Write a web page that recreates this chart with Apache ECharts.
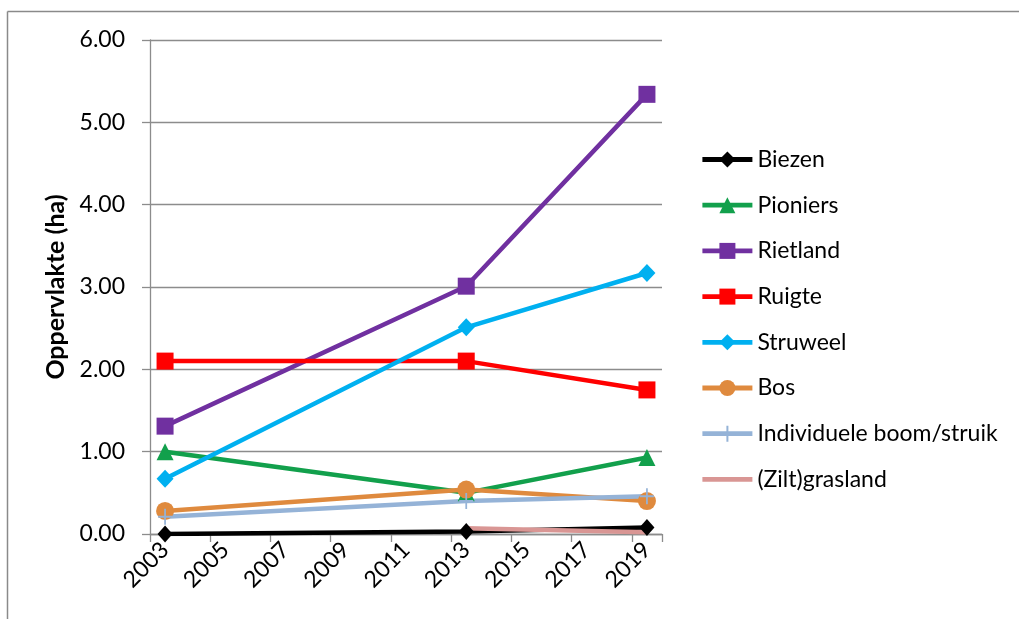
<!DOCTYPE html>
<html>
<head>
<meta charset="utf-8">
<title>Oppervlakte per vegetatietype</title>
<script src="https://cdn.jsdelivr.net/npm/echarts@6/dist/echarts.min.js"></script>
<style>
  html, body { margin: 0; padding: 0; background: #ffffff; }
  #chart { width: 1019px; height: 619px; }
</style>
</head>
<body>
<div id="chart"></div>
<script>
// Year scale of the horizontal axis (one band per year)
const axisYears = ['2003', '2004', '2005', '2006', '2007', '2008', '2009', '2010', '2011',
                   '2012', '2013', '2014', '2015', '2016', '2017', '2018', '2019'];

// Survey years and area (ha) per vegetation type
const surveyYears = ['2003', '2013', '2019'];
const biezen      = [0.00, 0.03, 0.08];
const pioniers    = [1.00, 0.50, 0.93];
const rietland    = [1.31, 3.01, 5.34];
const ruigte      = [2.10, 2.10, 1.75];
const struweel    = [0.67, 2.51, 3.17];
const bos         = [0.28, 0.54, 0.40];
const individueel = [0.21, 0.40, 0.46];
const grasland    = [null, 0.07, 0.02];

const yTicks = { min: 0, max: 6, step: 1 };

const FONT = 'Lato, "Open Sans", sans-serif';
const GRID_GREY = '#8c8c8c';

function pairs(values) {
  const out = [];
  values.forEach((v, i) => { if (v !== null) out.push([surveyYears[i], v]); });
  return out;
}

// plus marker (vertical arm shows above/below the line)
const PLUS = 'path://M7,0h2v7h7v2h-7v7h-2v-7h-7v-2h7z';
// plain line legend icon, boxed to the legend item size (50 x 20)
const LINE_ICON = 'path://M0,0h0.05v0.05h-0.05z M0,7.6h50v4.8h-50z M49.95,19.95h0.05v0.05h-0.05z';

function lineSeries(name, values, color, symbol, size) {
  return {
    name: name,
    type: 'line',
    data: pairs(values),
    symbol: symbol,
    symbolSize: size,
    showSymbol: symbol !== 'none',
    lineStyle: { color: color, width: 4.5 },
    itemStyle: { color: color },
    emphasis: { disabled: true }
  };
}

const chart = echarts.init(document.getElementById('chart'), null, { renderer: 'canvas' });

chart.setOption({
  animation: false,
  backgroundColor: '#ffffff',
  textStyle: { fontFamily: FONT },
  grid: { left: 150, right: 357, top: 40, bottom: 85 },
  graphic: [
    { type: 'line', shape: { x1: 7.5, y1: 11.5, x2: 1019, y2: 11.5 },
      style: { stroke: '#8a8a8a', lineWidth: 1.5 }, silent: true },
    { type: 'line', shape: { x1: 7.5, y1: 11.5, x2: 7.5, y2: 619 },
      style: { stroke: '#8a8a8a', lineWidth: 1.5 }, silent: true }
  ],
  legend: {
    orient: 'vertical',
    left: 695,
    top: 143,
    itemWidth: 50,
    itemHeight: 20,
    itemGap: 22.7,
    selectedMode: false,
    lineStyle: { width: 4.8 },
    textStyle: { fontFamily: FONT, fontSize: 23, color: '#000000', lineHeight: 22 },
    data: ['Biezen', 'Pioniers', 'Rietland', 'Ruigte', 'Struweel', 'Bos',
           'Individuele boom/struik', { name: '(Zilt)grasland', icon: LINE_ICON }]
  },
  xAxis: {
    type: 'category',
    data: axisYears,
    boundaryGap: true,
    axisLine: { show: true, lineStyle: { color: GRID_GREY, width: 1.3 } },
    axisTick: { show: true, interval: 1, length: 8, lineStyle: { color: GRID_GREY, width: 1.3 } },
    axisLabel: {
      interval: 1,
      rotate: 45,
      margin: 12,
      fontFamily: FONT,
      fontSize: 23,
      color: '#000000'
    },
    splitLine: { show: false }
  },
  yAxis: {
    type: 'value',
    min: yTicks.min,
    max: yTicks.max,
    interval: yTicks.step,
    name: 'Oppervlakte (ha)',
    nameLocation: 'middle',
    nameGap: 80,
    nameRotate: 90,
    nameTextStyle: { fontFamily: FONT, fontSize: 25, fontWeight: 'bold', color: '#000000' },
    axisLine: { show: true, lineStyle: { color: GRID_GREY, width: 1.3 } },
    axisTick: { show: true, inside: false, length: 8, lineStyle: { color: GRID_GREY, width: 1.3 } },
    axisLabel: {
      margin: 25,
      fontFamily: FONT,
      fontSize: 23,
      color: '#000000',
      formatter: v => v.toFixed(2)
    },
    splitLine: { show: true, lineStyle: { color: GRID_GREY, width: 1.3 } }
  },
  series: [
    lineSeries('Biezen', biezen, '#000000', 'diamond', [15, 17]),
    lineSeries('Pioniers', pioniers, '#12a04c', 'triangle', 17),
    lineSeries('Rietland', rietland, '#7030a0', 'rect', 17),
    lineSeries('Ruigte', ruigte, '#ff0000', 'rect', 17),
    lineSeries('Struweel', struweel, '#00b0f0', 'diamond', [17, 18]),
    lineSeries('Bos', bos, '#df8a3e', 'circle', 18),
    lineSeries('Individuele boom/struik', individueel, '#95b3d7', PLUS, [14, 16]),
    lineSeries('(Zilt)grasland', grasland, '#d99694', 'none', 0)
  ]
});
</script>
</body>
</html>
